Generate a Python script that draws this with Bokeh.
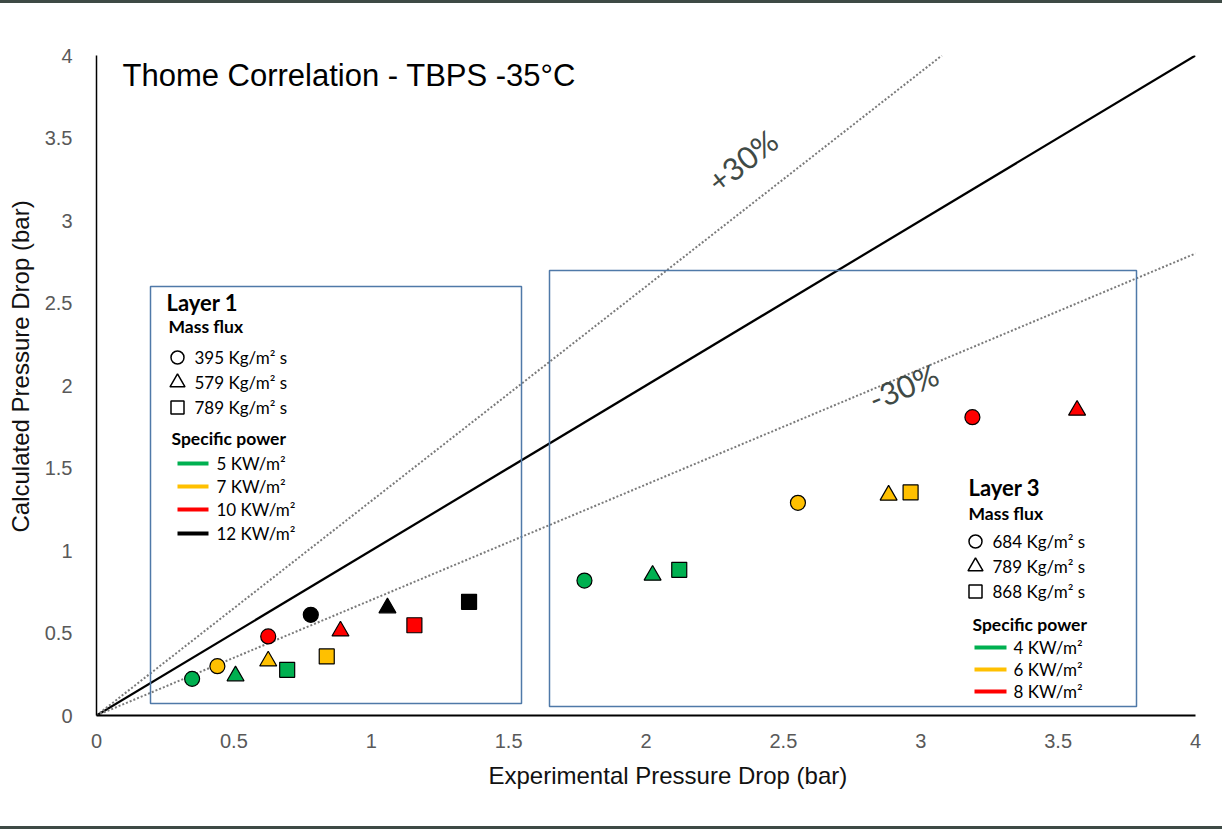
import math
from bokeh.plotting import figure
from bokeh.models import Range1d, FixedTicker, Label, BoxAnnotation, Div, Title
from bokeh.layouts import column
from bokeh.embed import file_html
from bokeh.resources import INLINE

# ---------------- data ----------------
x_ticks = [0, 0.5, 1, 1.5, 2, 2.5, 3, 3.5, 4]
x_tick_labels = ["0", "0.5", "1", "1.5", "2", "2.5", "3", "3.5", "4"]
y_ticks = [0, 0.5, 1, 1.5, 2, 2.5, 3, 3.5, 4]
y_tick_labels = ["0", "0.5", "1", "1.5", "2", "2.5", "3", "3.5", "4"]

# Layer 1 (specific power 5, 7, 10, 12 kW/m2)
l1_power = ["5", "7", "10", "12"]
l1_circle_x = [0.348, 0.440, 0.625, 0.780]      # 395 kg/m2 s
l1_circle_y = [0.222, 0.299, 0.479, 0.610]
l1_triangle_x = [0.506, 0.625, 0.888, 1.059]    # 579 kg/m2 s
l1_triangle_y = [0.240, 0.330, 0.512, 0.652]
l1_square_x = [0.694, 0.838, 1.157, 1.356]      # 789 kg/m2 s
l1_square_y = [0.277, 0.358, 0.547, 0.689]

# Layer 3 (specific power 4, 6, 8 kW/m2)
l3_power = ["4", "6", "8"]
l3_circle_x = [1.776, 2.553, 3.188]             # 684 kg/m2 s
l3_circle_y = [0.818, 1.289, 1.808]
l3_triangle_x = [2.024, 2.883, 3.569]           # 789 kg/m2 s
l3_triangle_y = [0.850, 1.335, 1.850]
l3_square_x = [2.121, 2.963]                    # 868 kg/m2 s
l3_square_y = [0.883, 1.352]

l1_mass_flux = ["395", "579", "789"]
l3_mass_flux = ["684", "789", "868"]
band_ratios = [1.3, 0.7]
band_labels = ["+30%", "-30%"]

# ---------------- styles ----------------
COL1 = ["#00b050", "#ffc000", "#ff0000", "#000000"]
COL3 = ["#00b050", "#ffc000", "#ff0000"]
BOX_COLOR = "#4f79a8"
ARIAL = "Liberation Sans"
CAL = "Lato"

FIG_W, FIG_H = 1222, 823
TOP_BAR = 3
FR_L, FR_R, FR_T, FR_B = 96, 1195, 55, 715  # absolute page pixels of frame

def dx(px):
    return (px - FR_L) / (FR_R - FR_L) * 4.0

def dy(py):
    return (FR_B - py) / (FR_B - FR_T) * 4.0

p = figure(width=FIG_W, height=FIG_H, output_backend="svg", toolbar_location=None,
           x_range=Range1d(0, 4), y_range=Range1d(0, 4),
           min_border_left=FR_L, min_border_right=FIG_W - FR_R,
           min_border_top=FR_T - TOP_BAR, min_border_bottom=(FIG_H + TOP_BAR) - FR_B)
p.outline_line_color = None
p.grid.visible = False
p.background_fill_color = "white"
p.border_fill_color = "white"

for ax, ticks, labels in ((p.xaxis[0], x_ticks, x_tick_labels), (p.yaxis[0], y_ticks, y_tick_labels)):
    ax.ticker = FixedTicker(ticks=ticks)
    ax.major_label_overrides = {t: l for t, l in zip(ticks, labels)}
    ax.major_tick_line_color = None
    ax.minor_tick_line_color = None
    ax.axis_line_color = "black"
    ax.major_label_text_font = ARIAL
    ax.major_label_text_font_size = "20px"
    ax.major_label_text_color = "#595959"

p.xaxis.axis_line_width = 2
p.yaxis.axis_line_width = 1.5
p.xaxis.major_label_standoff = 12
p.yaxis.major_label_standoff = 18

# axis titles (off-centre as in the reference)
p.add_layout(Title(text="Experimental Pressure Drop (bar)", align="left", offset=392,
                   text_font=ARIAL, text_font_size="24px", text_font_style="normal",
                   text_color="#111111", standoff=19), "below")
p.add_layout(Title(text="Calculated Pressure Drop (bar)", align="left", offset=183,
                   vertical_align="top",
                   text_font=ARIAL, text_font_size="24px", text_font_style="normal",
                   text_color="#111111", standoff=12), "left")

# reference lines
p.line([0, 4], [0, 4], line_color="black", line_width=2.25)
for r in band_ratios:
    xe = min(4.0, 4.0 / r)
    p.line([0, xe], [0, xe * r], line_color="#7a7a7a", line_width=2, line_dash="2 2")

# boxes
p.add_layout(BoxAnnotation(left=dx(150), right=dx(521), top=dy(286), bottom=dy(703),
                           fill_color=None, fill_alpha=0, line_color=BOX_COLOR,
                           line_alpha=1.0, line_width=1.5))
p.add_layout(BoxAnnotation(left=dx(549), right=dx(1136), top=dy(270), bottom=dy(706),
                           fill_color=None, fill_alpha=0, line_color=BOX_COLOR,
                           line_alpha=1.0, line_width=1.5))

# data points
MS = 15
def pts(xs, ys, cols, marker, size):
    p.scatter(xs, ys, marker=marker, size=size, fill_color=cols[:len(xs)],
              line_color="black", line_width=1.2)

pts(l1_circle_x, l1_circle_y, COL1, "circle", MS)
pts(l1_triangle_x, l1_triangle_y, COL1, "triangle", 17)
pts(l1_square_x, l1_square_y, COL1, "square", MS)
pts(l3_circle_x, l3_circle_y, COL3, "circle", MS)
pts(l3_triangle_x, l3_triangle_y, COL3, "triangle", 17)
pts(l3_square_x, l3_square_y, COL3, "square", MS)

# title
p.add_layout(Label(x=dx(122), y=dy(75), text="Thome Correlation - TBPS -35°C",
                   text_font=ARIAL, text_font_size="31px", text_color="black",
                   text_baseline="middle", text_align="left"))

# band labels
for lbl, (cx, cy), r in zip(band_labels, [(742, 160), (903, 386)], band_ratios):
    ang = math.atan(r * (FR_B - FR_T) / (FR_R - FR_L))
    p.add_layout(Label(x=dx(cx), y=dy(cy), text=lbl, angle=ang, text_font=CAL,
                       text_font_size="31px", text_color="#3f4a46",
                       text_align="center", text_baseline="middle"))

def txt(px, py, s, size, bold=False):
    p.add_layout(Label(x=dx(px), y=dy(py), text=s, text_font=CAL, text_font_size=size,
                       text_font_style="bold" if bold else "normal", text_color="black",
                       text_align="left", text_baseline="middle"))

# Layer 1 legend
txt(166, 302, "Layer 1", "22px", True)
txt(168, 326, "Mass flux", "17.5px", True)
mk = ["circle", "triangle", "square"]
mks = [13, 15, 13]
for i, (m, s, mf) in enumerate(zip(mk, mks, l1_mass_flux)):
    yy = [357, 382, 407][i]
    p.scatter([dx(177)], [dy(yy)], marker=m, size=s, fill_color="white", line_color="black", line_width=1.5)
    txt(194, yy, f"{mf} Kg/m² s", "17px")
txt(171, 438, "Specific power", "17.5px", True)
for i, (pw, c) in enumerate(zip(l1_power, COL1)):
    yy = [463, 486, 509, 533][i]
    p.segment([dx(177)], [dy(yy)], [dx(208)], [dy(yy)], line_color=c, line_width=4)
    txt(216, yy, f"{pw} KW/m²", "17px")

# Layer 3 legend
txt(968, 487, "Layer 3", "22px", True)
txt(968, 513, "Mass flux", "17.5px", True)
for i, (m, s, mf) in enumerate(zip(mk, mks, l3_mass_flux)):
    yy = [541, 566, 591][i]
    p.scatter([dx(975)], [dy(yy)], marker=m, size=s, fill_color="white", line_color="black", line_width=1.5)
    txt(992, yy, f"{mf} Kg/m² s", "17px")
txt(972, 624, "Specific power", "17.5px", True)
for i, (pw, c) in enumerate(zip(l3_power, COL3)):
    yy = [647, 669, 691][i]
    p.segment([dx(974)], [dy(yy)], [dx(1006)], [dy(yy)], line_color=c, line_width=4)
    txt(1013, yy, f"{pw} KW/m²", "17px")

top = Div(width=FIG_W, height=TOP_BAR, margin=0, styles={"background-color": "#3e4a45"})
bot = Div(width=FIG_W, height=3, margin=0, styles={"background-color": "#3e4a45"})
layout = column(top, p, bot, spacing=0)

open("out.html", "w").write(file_html(layout, INLINE))
